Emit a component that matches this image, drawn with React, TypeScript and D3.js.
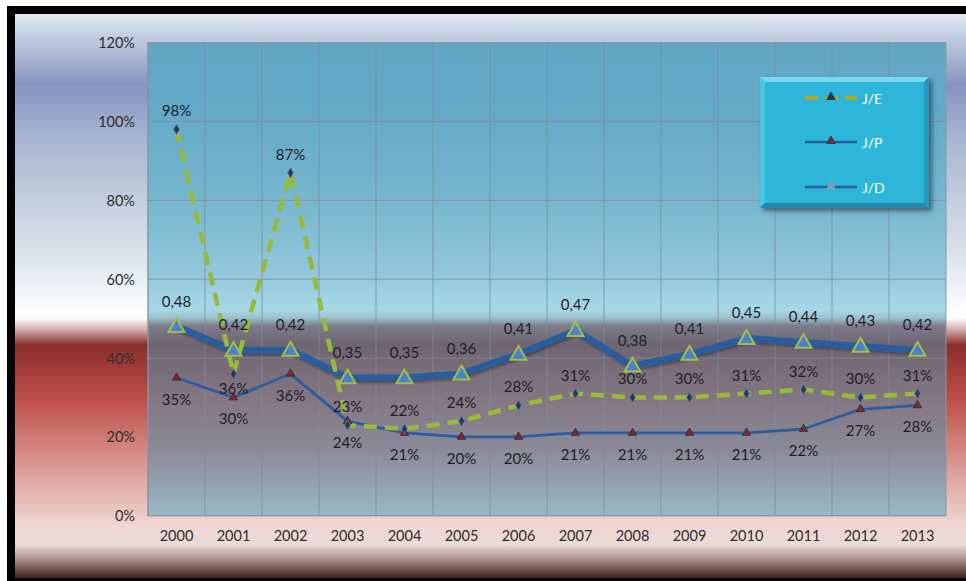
import React from "react";
import * as d3 from "d3";

const years = ["2000","2001","2002","2003","2004","2005","2006","2007","2008","2009","2010","2011","2012","2013"];
const jeValues = [0.98,0.36,0.87,0.23,0.22,0.24,0.28,0.31,0.30,0.30,0.31,0.32,0.30,0.31];
const jpValues = [0.35,0.30,0.36,0.24,0.21,0.20,0.20,0.21,0.21,0.21,0.21,0.22,0.27,0.28];
const jdValues = [0.48,0.42,0.42,0.35,0.35,0.36,0.41,0.47,0.38,0.41,0.45,0.44,0.43,0.42];
const yTicks = [0,0.2,0.4,0.6,0.8,1.0,1.2];
const seriesNames = ["J/E","J/P","J/D"];

const W = 966, H = 581;
const PL = 148, PR = 946, PT = 42.7, PB = 515.7;
const FONT = "Lato, 'Noto Sans', sans-serif";

export default function App() {
  if (typeof document !== "undefined") document.body.style.margin = "0";
  const x = d3.scaleBand<string>().domain(years).range([PL, PR]);
  const cx = (i: number) => (x(years[i]) as number) + x.bandwidth() / 2;
  const y = d3.scaleLinear().domain([0, 1.2]).range([PB, PT]);
  const line = d3.line<number>().x((_, i) => cx(i)).y((v) => y(v));
  const pct = (v: number) => `${Math.round(v * 100)}%`;
  const dec = (v: number) => d3.format(".2f")(v).replace(".", ",");

  const diamond = d3.symbol().type(d3.symbolDiamond).size(30)();
  const triSmall = d3.symbol().type(d3.symbolTriangle).size(30)();
  const triBig = d3.symbol().type(d3.symbolTriangle).size(110)();

  const bgStops: [number, string][] = [
    [14, "#e4ecf4"], [30, "#c9d6e6"], [85, "#8893c0"], [140, "#a9b6d1"], [250, "#d8e1ea"],
    [300, "#f6f8fb"], [318, "#ffffff"], [328, "#d9b9b8"], [345, "#8a2e2c"], [400, "#bf4f4b"],
    [470, "#dc9d98"], [525, "#f0d6d2"], [545, "#e9dad6"], [560, "#a88c86"], [576, "#4a2a24"]
  ];
  const plotStops: [number, string][] = [
    [42.7, "#62a6c6"], [110, "#63a9c8"], [200, "#76b6ce"], [280, "#95c9dc"], [310, "#a8d8e6"],
    [318, "#9cc0cc"], [326, "#7c7c8a"], [345, "#6f6572"], [400, "#837782"], [450, "#8b8a98"],
    [515.7, "#9ab8c6"]
  ];

  const legendY = [98, 142, 187];

  return (
    <svg width={W} height={H} style={{ position: "absolute", left: 0, top: 0, display: "block" }} fontFamily={FONT}>
      <defs>
        <linearGradient id="bg" gradientUnits="userSpaceOnUse" x1="0" y1="14" x2="0" y2="578">
          {bgStops.map(([p, c], i) => (
            <stop key={i} offset={(p - 14) / (578 - 14)} stopColor={c} />
          ))}
        </linearGradient>
        <linearGradient id="plotbg" gradientUnits="userSpaceOnUse" x1="0" y1={PT} x2="0" y2={PB}>
          {plotStops.map(([p, c], i) => (
            <stop key={i} offset={(p - PT) / (PB - PT)} stopColor={c} />
          ))}
        </linearGradient>
        <filter id="shadow" x="-10%" y="-10%" width="130%" height="140%">
          <feDropShadow dx="1.5" dy="2" stdDeviation="1.5" floodColor="#000" floodOpacity="0.35" />
        </filter>
        <filter id="lshadow" x="-10%" y="-10%" width="130%" height="130%">
          <feDropShadow dx="3" dy="3" stdDeviation="2.5" floodColor="#000" floodOpacity="0.45" />
        </filter>
      </defs>

      <rect x={0} y={0} width={W} height={H} fill="#ffffff" />
      <rect x={15} y={14} width={W - 15} height={564} fill="url(#bg)" />
      <rect x={7} y={6} width={W - 7} height={8} fill="#000" />
      <rect x={7} y={6} width={8} height={H - 6} fill="#000" />
      <rect x={7} y={578} width={W - 7} height={3} fill="#000" />

      <rect x={PL} y={PT} width={PR - PL} height={PB - PT} fill="url(#plotbg)" />
      {yTicks.map((t) => (
        <line key={"h" + t} x1={PL} x2={PR} y1={y(t)} y2={y(t)} stroke="#7d8d98" strokeOpacity={0.8} strokeWidth={1} />
      ))}
      {years.map((yr) => (
        <line key={"v" + yr} x1={(x(yr) as number)} x2={(x(yr) as number)} y1={PT} y2={PB} stroke="#7d8d98" strokeOpacity={0.8} strokeWidth={1} />
      ))}
      <rect x={PL} y={PT} width={PR - PL} height={PB - PT} fill="none" stroke="#8898a2" strokeWidth={1} />

      {yTicks.map((t) => (
        <text key={"yt" + t} x={135} y={y(t)} textAnchor="end" dominantBaseline="central" fontSize={14.5} fill="#2e2e2e">
          {pct(t)}
        </text>
      ))}
      {years.map((yr, i) => (
        <text key={"xt" + yr} x={cx(i)} y={535} textAnchor="middle" dominantBaseline="central" fontSize={14.5} fill="#2e2e2e">
          {yr}
        </text>
      ))}

      <path d={line(jdValues) || ""} fill="none" stroke="#2c5d9e" strokeWidth={6.5} strokeLinejoin="round" filter="url(#shadow)" />
      <path d={line(jpValues) || ""} fill="none" stroke="#2c5d9e" strokeWidth={2.8} strokeLinejoin="round" />
      <path d={line(jeValues) || ""} fill="none" stroke="#98ba3a" strokeWidth={4.5} strokeDasharray="13,8" strokeLinejoin="round" />

      {jdValues.map((v, i) => (
        <path key={"jdm" + i} d={triBig || ""} transform={`translate(${cx(i)},${y(v) + 1})`} fill="#4a7fd2" stroke="#a2c040" strokeWidth={2} />
      ))}
      {jpValues.map((v, i) => (
        <path key={"jpm" + i} d={triSmall || ""} transform={`translate(${cx(i)},${y(v)})`} fill="#7e2a32" stroke="#3a2232" strokeWidth={0.8} />
      ))}
      {jeValues.map((v, i) => (
        <path key={"jem" + i} d={diamond || ""} transform={`translate(${cx(i)},${y(v)})`} fill="#24385a" stroke="#5a7aa8" strokeWidth={0.8} />
      ))}

      {jdValues.map((v, i) => (
        <text key={"jdl" + i} x={cx(i)} y={y(v) - 26} textAnchor="middle" dominantBaseline="central" fontSize={15} fill="#1e1e2a">
          {dec(v)}
        </text>
      ))}
      {jpValues.map((v, i) => (
        <text key={"jpl" + i} x={cx(i)} y={y(v) + 21} textAnchor="middle" dominantBaseline="central" fontSize={15} fill="#1e1e2a">
          {pct(v)}
        </text>
      ))}
      {jeValues.map((v, i) => (
        <text key={"jel" + i} x={cx(i)} y={i === 1 ? y(v) + 14 : y(v) - 19} textAnchor="middle" dominantBaseline="central" fontSize={15} fill="#1e1e2a">
          {pct(v)}
        </text>
      ))}

      <g>
        <rect x={760} y={77} width={169} height={131} fill="#2fb6da" filter="url(#lshadow)" />
        <polygon points="760,77 929,77 924,82 765,82" fill="#78d8f2" />
        <polygon points="760,77 765,82 765,203 760,208" fill="#4cc4e4" />
        <polygon points="929,77 929,208 924,203 924,82" fill="#2598be" />
        <polygon points="760,208 929,208 924,203 765,203" fill="#1f88ac" />
        <line x1={805} x2={857} y1={legendY[0]} y2={legendY[0]} stroke="#a9a834" strokeWidth={4} strokeDasharray="13,7" />
        <path d={triSmall || ""} transform={`translate(831,${legendY[0] - 1})`} fill="#24385a" stroke="#1a2a40" strokeWidth={0.8} />
        <line x1={805} x2={857} y1={legendY[1]} y2={legendY[1]} stroke="#2c5d9e" strokeWidth={2.5} />
        <path d={triSmall || ""} transform={`translate(831,${legendY[1] - 1})`} fill="#7e2a32" stroke="#3a2232" strokeWidth={0.8} />
        <line x1={805} x2={857} y1={legendY[2]} y2={legendY[2]} stroke="#2c5d9e" strokeWidth={2.5} />
        <path d={triSmall || ""} transform={`translate(831,${legendY[2] - 1})`} fill="#7fa0b0" stroke="#90a0a0" strokeWidth={0.8} />
        {seriesNames.map((n, i) => (
          <text key={n} x={862} y={legendY[i]} dominantBaseline="central" fontSize={14} fill="#ffffff">
            {n}
          </text>
        ))}
      </g>
    </svg>
  );
}
